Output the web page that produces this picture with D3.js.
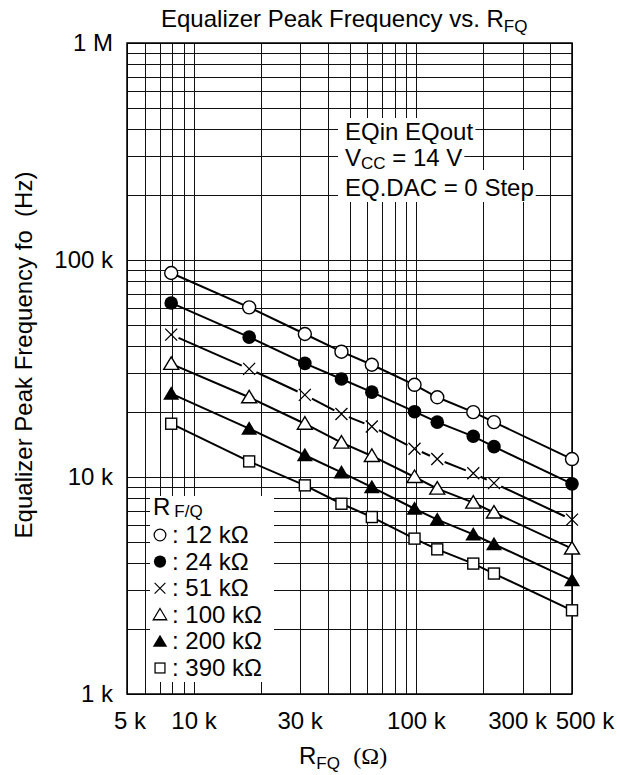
<!DOCTYPE html>
<html><head><meta charset="utf-8">
<script src="https://cdn.jsdelivr.net/npm/d3@7"></script>
<style>
body{margin:0;background:#fff}
svg{display:block}
text{font-family:"Liberation Sans",Arial,Helvetica,sans-serif;fill:#000}
</style>
</head><body>
<svg id="c" width="620" height="775"></svg>
<script>
// ---------------- data ----------------
const rfq = [7900, 17700, 31500, 46000, 63000, 98000, 124000, 180000, 223000, 500000];
const fo12k  = [87100, 60500, 45600, 37800, 32900, 26600, 23300, 19900, 17900, 12100];
const fo24k  = [63400, 44100, 33400, 28300, 24600, 20000, 17900, 15400, 13800, 9300];
const fo51k  = [45300, 31500, 23900, 19500, 17100, 13500, 12100, 10400, 9370, 6360];
const fo100k = [33200, 23300, 17600, 14400, 12500, 10000, 8840, 7620, 6860, 4680];
const fo200k = [24200, 16700, 12600, 10500, 8980, 7140, 6360, 5440, 4900, 3340];
const fo390k = [17600, 11800, 9150, 7530, 6540, 5200, 4640, 3990, 3590, 2430];
const seriesLabels = [": 12 kΩ", ": 24 kΩ", ": 51 kΩ", ": 100 kΩ", ": 200 kΩ", ": 390 kΩ"];
const seriesMarkers = ["circleOpen", "circleFilled", "cross", "triangleOpen", "triangleFilled", "squareOpen"];
const xTickValues = [5e3, 1e4, 3e4, 1e5, 3e5, 5e5];
const xTickLabels = ["5 k", "10 k", "30 k", "100 k", "300 k", "500 k"];
const yTickValues = [1e3, 1e4, 1e5, 1e6];
const yTickLabels = ["1 k", "10 k", "100 k", "1 M"];
const titleMain = "Equalizer Peak Frequency vs. R";
const titleSub = "FQ";
const yTitle = "Equalizer Peak Frequency fo  (Hz)";
const noteLines = [["EQin EQout", ""], ["V", "CC", " = 14 V"], ["EQ.DAC = 0 Step", ""]];
const legendTitle = ["R", "F/Q"];

const seriesValues = [fo12k, fo24k, fo51k, fo100k, fo200k, fo390k];

// ---------------- layout ----------------
const svg = d3.select("#c");
const L = 127, R = 572, T = 43, B = 694;
const FS = 24, SUB = 17;
const x = d3.scaleLog().domain([5e3, 5e5]).range([L, R]);
const y = d3.scaleLog().domain([1e3, 1e6]).range([B, T]);

svg.append("rect").attr("width", 620).attr("height", 775).attr("fill", "#fff");

// grid
const grid = svg.append("g").attr("stroke", "#111").attr("stroke-width", 1).attr("shape-rendering", "crispEdges");
x.ticks().forEach(v => {
  const px = Math.round(x(v)) + 0.5;
  grid.append("line").attr("x1", px).attr("x2", px).attr("y1", T).attr("y2", B);
});
y.ticks().forEach(v => {
  const py = Math.round(y(v)) + 0.5;
  grid.append("line").attr("x1", L).attr("x2", R).attr("y1", py).attr("y2", py);
});

// annotation block with white backing per line
const noteG = svg.append("g");
const noteX = 345, noteBase = [140, 166, 196];
noteLines.forEach((parts, i) => {
  const bg = noteG.append("rect").attr("fill", "#fff");
  const t = noteG.append("text").attr("x", noteX).attr("y", noteBase[i]).attr("font-size", FS).style("white-space", "pre");
  if (parts.length === 3) {
    t.append("tspan").text(parts[0]);
    t.append("tspan").attr("font-size", SUB).attr("dy", 3).text(parts[1]);
    t.append("tspan").attr("dy", -3).text(parts[2]);
  } else {
    t.text(parts[0]);
  }
  const bb = t.node().getBBox();
  const top = i === 0 ? noteBase[0] - 22 : noteBase[i - 1] + 4;
  const bot = i === noteLines.length - 1 ? noteBase[i] + 6 : noteBase[i] + 4;
  bg.attr("x", noteX - 7).attr("y", top).attr("width", bb.width + 9).attr("height", bot - top);
});

// legend backing
const legX = 150, legY = 496, legW = 124, legH = 186;
svg.append("rect").attr("x", legX).attr("y", legY).attr("width", legW).attr("height", legH).attr("fill", "#fff");

// frame
svg.append("rect").attr("x", L).attr("y", T).attr("width", R - L).attr("height", B - T)
  .attr("fill", "none").attr("stroke", "#000").attr("stroke-width", 1.5);

// markers
function drawMarker(g, type) {
  switch (type) {
    case "circleOpen":
      g.append("circle").attr("r", 6.5).attr("fill", "#fff").attr("stroke", "#000").attr("stroke-width", 1.4); break;
    case "circleFilled":
      g.append("circle").attr("r", 6.8).attr("fill", "#000"); break;
    case "cross":
      g.append("path").attr("d", "M-6,-6L6,6M-6,6L6,-6").attr("stroke", "#000").attr("stroke-width", 1.3).attr("fill", "none"); break;
    case "triangleOpen":
      g.append("path").attr("d", "M0,-7L7.5,5.5L-7.5,5.5Z").attr("fill", "#fff").attr("stroke", "#000").attr("stroke-width", 1.4); break;
    case "triangleFilled":
      g.append("path").attr("d", "M0,-7.5L8,6L-8,6Z").attr("fill", "#000"); break;
    case "squareOpen":
      g.append("rect").attr("x", -5.5).attr("y", -5.5).attr("width", 11).attr("height", 11).attr("fill", "#fff").attr("stroke", "#000").attr("stroke-width", 1.4); break;
  }
}

// series lines (segments trimmed near cross markers)
const lineG = svg.append("g").attr("stroke", "#000").attr("stroke-width", 2).attr("fill", "none");
seriesValues.forEach((vals, si) => {
  const gap = seriesMarkers[si] === "cross" ? 8 : 0;
  const pts = vals.map((v, i) => [x(rfq[i]), y(v)]);
  for (let i = 0; i < pts.length - 1; i++) {
    const [x1, y1] = pts[i], [x2, y2] = pts[i + 1];
    const len = Math.hypot(x2 - x1, y2 - y1);
    const ux = (x2 - x1) / len, uy = (y2 - y1) / len;
    lineG.append("path").attr("d", d3.line()([[x1 + ux * gap, y1 + uy * gap], [x2 - ux * gap, y2 - uy * gap]]));
  }
});
const markG = svg.append("g");
seriesValues.forEach((vals, si) => {
  vals.forEach((v, i) => {
    drawMarker(markG.append("g").attr("transform", `translate(${x(rfq[i])},${y(v)})`), seriesMarkers[si]);
  });
});

// legend content
const lg = svg.append("g");
const lt = lg.append("text").attr("x", 153).attr("y", 515).attr("font-size", FS);
lt.append("tspan").text(legendTitle[0]);
lt.append("tspan").attr("font-size", SUB).attr("dx", 4).attr("dy", 2).text(legendTitle[1]);
seriesLabels.forEach((lab, i) => {
  const by = 543 + i * 26.6;
  const mg = lg.append("g").attr("transform", `translate(160,${by - 8}) scale(0.9)`);
  drawMarker(mg, seriesMarkers[i]);
  lg.append("text").attr("x", 172).attr("y", by).attr("font-size", FS).text(lab);
});

// axis tick labels
const xLab = svg.append("g");
xTickValues.forEach((v, i) => {
  let dx = 0;
  if (i === xTickValues.length - 1) dx = 13;
  if (i === xTickValues.length - 2) dx = -5;
  if (i === 0) dx = 3;
  xLab.append("text").attr("x", x(v) + dx).attr("y", 729).attr("text-anchor", "middle").attr("font-size", FS).text(xTickLabels[i]);
});
const yLab = svg.append("g");
yTickValues.forEach((v, i) => {
  yLab.append("text").attr("x", 113).attr("y", y(v)).attr("dy", "0.35em").attr("text-anchor", "end").attr("font-size", FS).text(yTickLabels[i]);
});

// title
const tt = svg.append("text").attr("x", 161).attr("y", 27).attr("font-size", FS);
tt.append("tspan").text(titleMain);
tt.append("tspan").attr("font-size", SUB).attr("dy", 5).text(titleSub);

// y title
svg.append("text").attr("transform", "translate(32,355) rotate(-90)").attr("text-anchor", "middle")
  .attr("font-size", FS).style("white-space", "pre").text(yTitle);

// x title
const xt = svg.append("text").attr("x", 299).attr("y", 764).attr("font-size", FS).style("white-space", "pre");
xt.append("tspan").text("R");
xt.append("tspan").attr("font-size", SUB).attr("dy", 5).text("FQ");
xt.append("tspan").attr("dy", -5).text("  ");
xt.append("tspan").style("font-family", "'Liberation Serif','Times New Roman',serif").text("(Ω)");
</script>
</body></html>
